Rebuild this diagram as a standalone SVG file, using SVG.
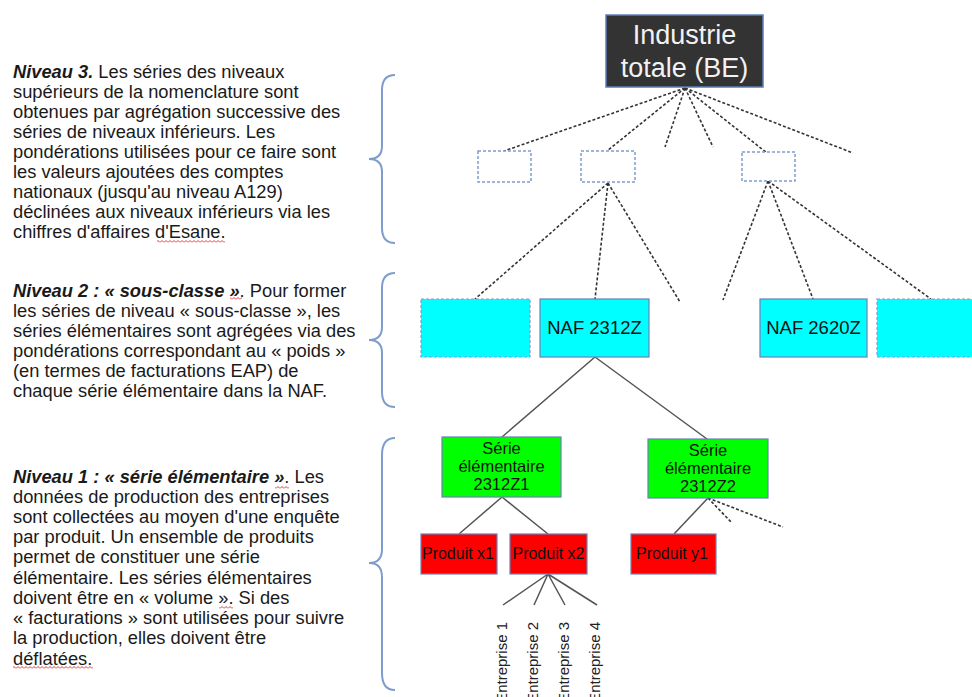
<svg xmlns="http://www.w3.org/2000/svg" width="972" height="697" viewBox="0 0 972 697">
<style>
  .para { font-family: "Liberation Sans", Arial, sans-serif; font-size: 18.3px; fill: #1a1a1a; }
  .bi { font-weight: bold; font-style: italic; }
  .brace { fill: none; stroke: #7f9dcc; stroke-width: 2; }
  .dash { stroke: #333; stroke-width: 1.6; stroke-dasharray: 3 2; fill: none; }
  .solid { stroke: #555; stroke-width: 1.5; fill: none; }
  .ghost { fill: #fff; stroke: #7f9dd0; stroke-width: 1.5; stroke-dasharray: 3 2; }
  .cyan { fill: #00ffff; stroke: #6a80b8; stroke-width: 1.2; }
  .cyand { fill: #00ffff; stroke: #7f9dd0; stroke-width: 1.2; stroke-dasharray: 3 2; }
  .green { fill: #00ff00; stroke: #6a80b8; stroke-width: 1.2; }
  .red { fill: #ff0000; stroke: #6a80b8; stroke-width: 1.2; }
  .lbl { font-family: "Liberation Sans", Arial, sans-serif; fill: #111; text-anchor: middle; }
  .ent { font-family: "Liberation Sans", Arial, sans-serif; font-size: 15px; fill: #222; text-anchor: end; }
</style>
<defs>
  <pattern id="sq" width="4" height="3" patternUnits="userSpaceOnUse">
    <path d="M0,2.5 L2,0.5 L4,2.5" stroke="#e02020" stroke-width="0.9" fill="none"/>
  </pattern>
</defs>
<rect width="972" height="697" fill="#fff"/>

<!-- Left explanatory texts -->
<g id="text-niveau3" class="para">
  <text x="13" y="78"><tspan class="bi">Niveau 3.</tspan> Les séries des niveaux</text>
  <text x="13" y="98">supérieurs de la nomenclature sont</text>
  <text x="13" y="118">obtenues par agrégation successive des</text>
  <text x="13" y="138">séries de niveaux inférieurs. Les</text>
  <text x="13" y="158">pondérations utilisées pour ce faire sont</text>
  <text x="13" y="178">les valeurs ajoutées des comptes</text>
  <text x="13" y="198">nationaux (jusqu'au niveau A129)</text>
  <text x="13" y="218">déclinées aux niveaux inférieurs via les</text>
  <text x="13" y="238">chiffres d'affaires d'Esane.</text>
</g>
<g id="text-niveau2" class="para">
  <text x="13" y="297"><tspan class="bi">Niveau 2 : « sous-classe »</tspan>. Pour former</text>
  <text x="13" y="317">les séries de niveau « sous-classe », les</text>
  <text x="13" y="337">séries élémentaires sont agrégées via des</text>
  <text x="13" y="357">pondérations correspondant au « poids »</text>
  <text x="13" y="377">(en termes de facturations EAP) de</text>
  <text x="13" y="397">chaque série élémentaire dans la NAF.</text>
</g>
<g id="text-niveau1" class="para">
  <text x="13" y="483"><tspan class="bi">Niveau 1 : « série élémentaire »</tspan>. Les</text>
  <text x="13" y="503">données de production des entreprises</text>
  <text x="13" y="523">sont collectées au moyen d'une enquête</text>
  <text x="13" y="543">par produit. Un ensemble de produits</text>
  <text x="13" y="563">permet de constituer une série</text>
  <text x="13" y="584">élémentaire. Les séries élémentaires</text>
  <text x="13" y="604">doivent être en « volume ». Si des</text>
  <text x="13" y="624">« facturations » sont utilisées pour suivre</text>
  <text x="13" y="644">la production, elles doivent être</text>
  <text x="13" y="665">déflatées.</text>
</g>
<g id="spellmarks">
  <rect x="157" y="240" width="68" height="3" fill="url(#sq)"/>
  <rect x="230" y="297" width="12" height="3" fill="url(#sq)"/>
  <rect x="275" y="486" width="14" height="3" fill="url(#sq)"/>
  <rect x="219" y="606" width="14" height="3" fill="url(#sq)"/>
  <rect x="13" y="666" width="80" height="3" fill="url(#sq)"/>
</g>

<!-- Braces -->
<g id="braces" class="brace">
  <path d="M395,75 Q382,75 382,90 L382,146 Q382,159 369,159 Q382,159 382,172 L382,228 Q382,243 395,243"/>
  <path d="M395,273 Q382,273 382,288 L382,327 Q382,340 369,340 Q382,340 382,353 L382,392 Q382,407 395,407"/>
  <path d="M395,438 Q382,438 382,455 L382,549 Q382,563 369,563 Q382,563 382,577 L382,673 Q382,690 395,690"/>
</g>

<!-- Connectors -->
<g id="connectors">
  <path class="dash" d="M685,88 L504,151 M685,88 L607,151 M685,88 L665,147 M685,88 L713,147 M685,88 L767,153 M685,88 L853,153"/>
  <path class="dash" d="M608,183 L475,299 M608,183 L595,299 M608,183 L680,302"/>
  <path class="dash" d="M768,181 L723,300 M768,181 L813,299 M768,181 L931,299"/>
  <path class="solid" d="M595,357 L502,437 M595,357 L707,439"/>
  <path class="solid" d="M502,497 L459,534 M502,497 L548,534"/>
  <path class="solid" d="M708,498 L674,534"/>
  <path class="dash" d="M708,498 L732,523 M708,498 L783,527"/>
  <path class="solid" d="M548,574 L503,605 M548,574 L534,605 M548,574 L565,605 M548,574 L597,605"/>
</g>

<!-- Level 4 root -->
<g id="node-industrie">
  <rect x="606" y="15" width="157" height="72" fill="#333" stroke="#5a7fb8" stroke-width="1.5"/>
  <text class="lbl" x="684.5" y="44" font-size="27" style="fill:#f2f2f2">Industrie</text>
  <text class="lbl" x="684.5" y="77" font-size="27" style="fill:#f2f2f2">totale (BE)</text>
</g>

<!-- Level 3 placeholders -->
<g id="node-ghost1"><rect class="ghost" x="478" y="151" width="53" height="31"/></g>
<g id="node-ghost2"><rect class="ghost" x="581" y="151" width="54" height="31"/></g>
<g id="node-ghost3"><rect class="ghost" x="742" y="152" width="53" height="29"/></g>

<!-- Level 2 -->
<g id="node-cyan-left"><rect class="cyand" x="421" y="299" width="109" height="58"/></g>
<g id="node-naf2312z">
  <rect class="cyan" x="540" y="299" width="109" height="58"/>
  <text class="lbl" x="594.5" y="334" font-size="18.5">NAF 2312Z</text>
</g>
<g id="node-naf2620z">
  <rect class="cyan" x="760" y="299" width="107" height="58"/>
  <text class="lbl" x="813.5" y="334" font-size="18.5">NAF 2620Z</text>
</g>
<g id="node-cyan-right"><rect class="cyand" x="877" y="299" width="110" height="58"/></g>

<!-- Level 1 -->
<g id="node-serie-2312z1">
  <rect class="green" x="442" y="437" width="119" height="60"/>
  <text class="lbl" x="501.5" y="454" font-size="16.5">Série</text>
  <text class="lbl" x="501.5" y="472" font-size="16.5">élémentaire</text>
  <text class="lbl" x="501.5" y="490" font-size="16.5">2312Z1</text>
</g>
<g id="node-serie-2312z2">
  <rect class="green" x="648" y="439" width="120" height="59"/>
  <text class="lbl" x="708" y="456" font-size="16.5">Série</text>
  <text class="lbl" x="708" y="474" font-size="16.5">élémentaire</text>
  <text class="lbl" x="708" y="492" font-size="16.5">2312Z2</text>
</g>

<!-- Products -->
<g id="node-produit-x1">
  <rect class="red" x="421" y="534" width="76" height="40"/>
  <text class="lbl" x="458" y="559" font-size="16">Produit x1</text>
</g>
<g id="node-produit-x2">
  <rect class="red" x="510" y="534" width="77" height="40"/>
  <text class="lbl" x="548.5" y="559" font-size="16">Produit x2</text>
</g>
<g id="node-produit-y1">
  <rect class="red" x="631" y="534" width="85" height="40"/>
  <text class="lbl" x="672" y="559" font-size="16">Produit y1</text>
</g>

<!-- Entreprises -->
<g id="node-entreprise1"><text class="ent" transform="translate(507,622) rotate(-90)">Entreprise 1</text></g>
<g id="node-entreprise2"><text class="ent" transform="translate(538,622) rotate(-90)">Entreprise 2</text></g>
<g id="node-entreprise3"><text class="ent" transform="translate(569,622) rotate(-90)">Entreprise 3</text></g>
<g id="node-entreprise4"><text class="ent" transform="translate(600,622) rotate(-90)">Entreprise 4</text></g>
</svg>
